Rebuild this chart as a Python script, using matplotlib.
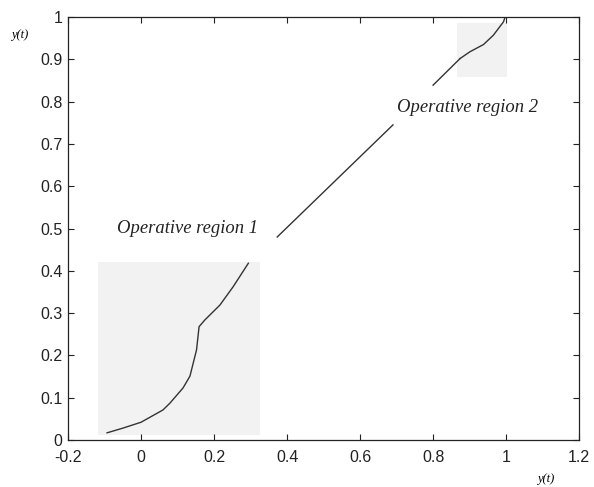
import matplotlib.pyplot as plt
from matplotlib.patches import Rectangle

# trajectory pieces
region1_x = [-0.093, -0.05, 0.0, 0.06, 0.079, 0.115, 0.134, 0.152, 0.159, 0.175, 0.216, 0.252, 0.294]
region1_y = [0.017, 0.028, 0.042, 0.071, 0.087, 0.123, 0.151, 0.213, 0.268, 0.284, 0.319, 0.362, 0.418]
middle_a_x = [0.373, 0.69]
middle_a_y = [0.48, 0.745]
middle_b_x = [0.80, 0.874]
middle_b_y = [0.839, 0.902]
region2_x = [0.874, 0.901, 0.938, 0.965, 0.993, 0.997]
region2_y = [0.902, 0.918, 0.935, 0.957, 0.989, 1.0]

# operative regions: (x0, y0, x1, y1)
boxes = [(-0.118, 0.012, 0.326, 0.42), (0.866, 0.858, 1.003, 0.986)]
box_labels = ['Operative region 1', 'Operative region 2']
label_pos = [(-0.066, 0.50), (0.70, 0.787)]

x_ticks = [-0.2, 0, 0.2, 0.4, 0.6, 0.8, 1, 1.2]
x_tick_labels = ['-0.2', '0', '0.2', '0.4', '0.6', '0.8', '1', '1.2']
y_ticks = [0, 0.1, 0.2, 0.3, 0.4, 0.5, 0.6, 0.7, 0.8, 0.9, 1]
y_tick_labels = ['0', '0.1', '0.2', '0.3', '0.4', '0.5', '0.6', '0.7', '0.8', '0.9', '1']

fig = plt.figure(figsize=(5.94, 4.87), dpi=100)
ax = fig.add_axes([0.1145, 0.0965, 0.8605, 0.8685])

for (x0, y0, x1, y1) in boxes:
    ax.add_patch(Rectangle((x0, y0), x1 - x0, y1 - y0, facecolor='#f2f2f2', edgecolor='none', zorder=0))

line_kw = dict(color='#333333', linewidth=1.0)
ax.plot(region1_x, region1_y, **line_kw)
ax.plot(middle_a_x, middle_a_y, **line_kw)
ax.plot(middle_b_x, middle_b_y, **line_kw)
ax.plot(region2_x, region2_y, **line_kw)

for txt, (tx, ty) in zip(box_labels, label_pos):
    ax.text(tx, ty, txt, family='Liberation Serif', style='italic', fontsize=13.4,
            ha='left', va='center', color='#222222')

ax.set_xlim(-0.2, 1.2)
ax.set_ylim(0, 1)
ax.set_xticks(x_ticks)
ax.set_xticklabels(x_tick_labels)
ax.set_yticks(y_ticks)
ax.set_yticklabels(y_tick_labels)
ax.tick_params(direction='in', top=True, right=True, length=4, width=0.8,
               labelsize=11.5, colors='#222222')
ax.tick_params(axis='x', pad=7)
ax.tick_params(axis='y', pad=4)
for lab in ax.get_xticklabels() + ax.get_yticklabels():
    lab.set_family('Liberation Sans')
for sp in ax.spines.values():
    sp.set_linewidth(0.9)
    sp.set_color('#222222')

fig.text(20 / 594, 1 - 35 / 487, 'y(t)', family='Liberation Serif', style='italic',
         fontsize=9, ha='center', va='center')
fig.text(546 / 594, 1 - 479 / 487, 'y(t)', family='Liberation Serif', style='italic',
         fontsize=9, ha='center', va='center')

plt.savefig('out.png', dpi=100)
